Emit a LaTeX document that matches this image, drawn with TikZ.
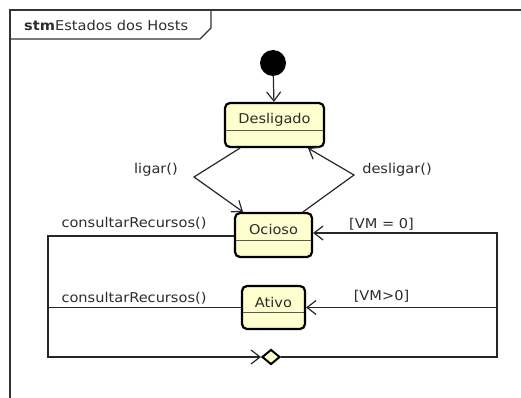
\documentclass[tikz,border=0pt]{standalone}
\usepackage{fontspec}
\setmainfont[FakeStretch=1.08]{DejaVu Sans}
\usetikzlibrary{arrows.meta, shapes.geometric, calc}
\usetikzlibrary{positioning}
\definecolor{statefill}{RGB}{254,254,206}
\definecolor{txtgray}{RGB}{45,45,45}

\begin{document}
\begin{tikzpicture}[x=1pt, y=-1pt, every node/.style={font=\fontsize{13.5}{16}\selectfont, text=txtgray},
    flow/.style={line width=1.2pt, draw=black!85, -{Straight Barb[length=9pt, width=14pt]}},
    wire/.style={line width=1.2pt, draw=black!85},
    statebox/.style={draw, line width=2.2pt, rounded corners=5pt, fill=statefill, inner xsep=0pt, inner ysep=0pt,
        text height=21pt, path picture={\draw[line width=1.3pt, black!65]
            ([yshift=16.5pt]path picture bounding box.south west) -- ([yshift=16.5pt]path picture bounding box.south east);}}]
    \useasboundingbox (0,0) rectangle (521,398);
    % frame
    \draw[line width=1.2pt, black!80] (10,398) -- (10,10) -- (521,10);
    \draw[line width=1.2pt, black!80] (10,39) -- (200,39) -- (211,28) -- (211,10);
    \node[anchor=west, inner sep=0pt] (title) at (24,25) {\textbf{stm}Estados dos Hosts};
    % states
    \node[circle, fill=black, minimum size=26pt, inner sep=0pt] (init) at (273,63) {};
	\node[statebox, minimum width=99pt, text depth=23pt] (desl) at (274.5,125) {Desligado};
	\node[statebox, minimum width=77pt, text depth=23pt] (ocioso) at (273.5,235) {Ocioso};
	\node[statebox, minimum width=63pt, text depth=22pt] (ativo) at (273.5,307.5) {Ativo};
    \node[diamond, draw, line width=2pt, fill=statefill, minimum width=18pt, minimum height=15pt, inner sep=0pt] (dec) at (271,357) {};
    \coordinate (lbend) at (194,177);
    \coordinate (rbend) at (354,175);
    \coordinate (lb) at (48,357);
    \coordinate (rb) at (497,357);
    % transitions
    \draw[flow] (init) -- (desl);
    \draw[flow] ([xshift=-34.5pt]desl.south) -- (lbend) -- ([xshift=-30.5pt]ocioso.north);
    \draw[flow] ([xshift=29.5pt]ocioso.north) -- (rbend) -- ([xshift=33.5pt]desl.south);
    \draw[flow] ([yshift=-1pt]ocioso.west) -| (lb) -- (dec.west);
    \draw[wire] (ativo.west) -- (ativo.west -| lb);
    \draw[flow] (dec.east) -- (rb) |- ([yshift=2pt]ocioso.east);
    \draw[flow] (ativo.east -| rb) -- (ativo.east);
    % labels
    \node (ligar) at (156,170) {ligar()};
    \node (desligar) at (397,170) {desligar()};
    \node (cons1) at (134,223) {consultarRecursos()};
    \node (cons2) at (134,298) {consultarRecursos()};
    \node (vm0) at (381.5,224) {[VM = 0]};
    \node (vmpos) at (381.5,296) {[VM>0]};
\end{tikzpicture}
\end{document}
